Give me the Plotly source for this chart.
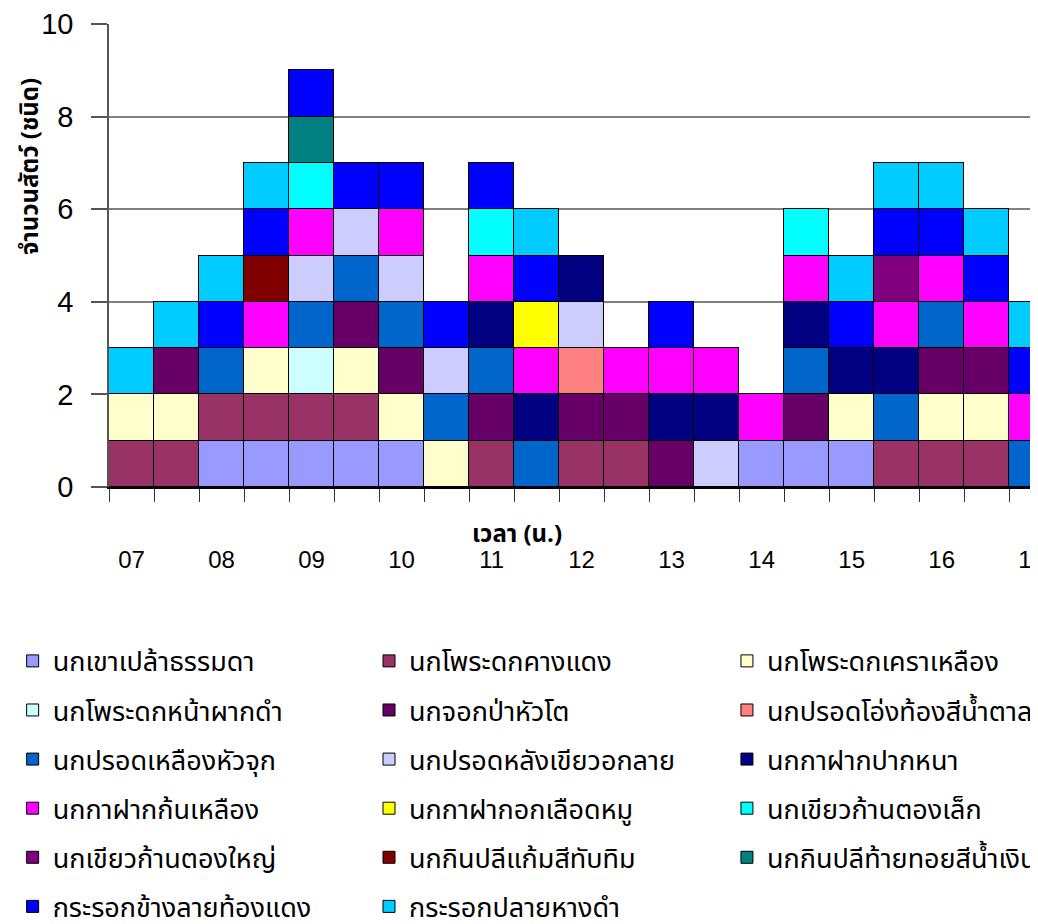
import plotly.graph_objects as go

times = ["07:00", "07:30", "08:00", "08:30", "09:00", "09:30", "10:00", "10:30", "11:00", "11:30",
         "12:00", "12:30", "13:00", "13:30", "14:00", "14:30", "15:00", "15:30", "16:00", "16:30", "17:00"]
tick_labels = ["07", "08", "09", "10", "11", "12", "13", "14", "15", "16", "17"]

species = [
    "นกเขาเปล้าธรรมดา", "นกโพระดกคางแดง", "นกโพระดกเคราเหลือง",
    "นกโพระดกหน้าผากดำ", "นกจอกป่าหัวโต", "นกปรอดโอ่งท้องสีน้ำตาล",
    "นกปรอดเหลืองหัวจุก", "นกปรอดหลังเขียวอกลาย", "นกกาฝากปากหนา",
    "นกกาฝากก้นเหลือง", "นกกาฝากอกเลือดหมู", "นกเขียวก้านตองเล็ก",
    "นกเขียวก้านตองใหญ่", "นกกินปลีแก้มสีทับทิม", "นกกินปลีท้ายทอยสีน้ำเงิน",
    "กระรอกข้างลายท้องแดง", "กระรอกปลายหางดำ",
]

colors = ["#9999FF", "#993366", "#FFFFCC", "#CCFFFF", "#660066", "#FF8080",
          "#0066CC", "#CCCCFF", "#000080", "#FF00FF", "#FFFF00", "#00FFFF",
          "#800080", "#800000", "#008080", "#0000FF", "#00CCFF"]

s01 = [0, 0, 1, 1, 1, 1, 1, 0, 0, 0, 0, 0, 0, 0, 1, 1, 1, 0, 0, 0, 0]
s02 = [1, 1, 1, 1, 1, 1, 0, 0, 1, 0, 1, 1, 0, 0, 0, 0, 0, 1, 1, 1, 0]
s03 = [1, 1, 0, 1, 0, 1, 1, 1, 0, 0, 0, 0, 0, 0, 0, 0, 1, 0, 1, 1, 0]
s04 = [0, 0, 0, 0, 1, 0, 0, 0, 0, 0, 0, 0, 0, 0, 0, 0, 0, 0, 0, 0, 0]
s05 = [0, 1, 0, 0, 0, 1, 1, 0, 1, 0, 1, 1, 1, 0, 0, 1, 0, 0, 1, 1, 0]
s06 = [0, 0, 0, 0, 0, 0, 0, 0, 0, 0, 1, 0, 0, 0, 0, 0, 0, 0, 0, 0, 0]
s07 = [0, 0, 1, 0, 1, 1, 1, 1, 1, 1, 0, 0, 0, 0, 0, 1, 0, 1, 1, 0, 1]
s08 = [0, 0, 0, 0, 1, 1, 1, 1, 0, 0, 1, 0, 0, 1, 0, 0, 0, 0, 0, 0, 0]
s09 = [0, 0, 0, 0, 0, 0, 0, 0, 1, 1, 1, 0, 1, 1, 0, 1, 1, 1, 0, 0, 0]
s10 = [0, 0, 0, 1, 1, 0, 1, 0, 1, 1, 0, 1, 1, 1, 1, 1, 0, 1, 1, 1, 1]
s11 = [0, 0, 0, 0, 0, 0, 0, 0, 0, 1, 0, 0, 0, 0, 0, 0, 0, 0, 0, 0, 0]
s12 = [0, 0, 0, 0, 1, 0, 0, 0, 1, 0, 0, 0, 0, 0, 0, 1, 0, 0, 0, 0, 0]
s13 = [0, 0, 0, 0, 0, 0, 0, 0, 0, 0, 0, 0, 0, 0, 0, 0, 0, 1, 0, 0, 0]
s14 = [0, 0, 0, 1, 0, 0, 0, 0, 0, 0, 0, 0, 0, 0, 0, 0, 0, 0, 0, 0, 0]
s15 = [0, 0, 0, 0, 1, 0, 0, 0, 0, 0, 0, 0, 0, 0, 0, 0, 0, 0, 0, 0, 0]
s16 = [0, 0, 1, 1, 1, 1, 1, 1, 1, 1, 0, 0, 1, 0, 0, 0, 1, 1, 1, 1, 1]
s17 = [1, 1, 1, 1, 0, 0, 0, 0, 0, 1, 0, 0, 0, 0, 0, 0, 1, 1, 1, 1, 1]

series = [s01, s02, s03, s04, s05, s06, s07, s08, s09, s10, s11, s12, s13, s14, s15, s16, s17]

THAI = "Noto Sans Thai, Noto Sans, Liberation Sans, sans-serif"
NUM = "Liberation Sans, Arial, sans-serif"

x_idx = list(range(len(times)))
legend_ids = ["legend", "legend2", "legend3"]

fig = go.Figure()
for i, (name, col, vals) in enumerate(zip(species, colors, series)):
    fig.add_trace(go.Bar(
        x=x_idx, y=[v if v else None for v in vals], name=name,
        marker=dict(color=col, line=dict(color="black", width=1)),
        hovertext=times,
        legend=legend_ids[i % 3], legendgroup=f"g{i}",
    ))

leg_common = dict(
    orientation="v", traceorder="grouped", xref="container", yref="container",
    xanchor="left", yanchor="top", y=0.3135,
    font=dict(family=THAI, size=27, color="black"),
    tracegroupgap=11, bgcolor="rgba(0,0,0,0)",
)
leg_x = [0.0045, 0.3505, 0.698]

fig.update_layout(
    width=1030, height=916,
    barmode="stack", bargap=0,
    plot_bgcolor="white", paper_bgcolor="white",
    margin=dict(l=101, r=0, t=16, b=437, autoexpand=False),
    showlegend=True,
    legend=dict(x=leg_x[0], **leg_common),
    legend2=dict(x=leg_x[1], **leg_common),
    legend3=dict(x=leg_x[2], **leg_common),
    xaxis=dict(
        range=[-0.5, 20.14], automargin=False,
        tickmode="array", tickvals=list(range(0, 21, 2)), ticktext=tick_labels,
        ticks="", showgrid=False, zeroline=False,
        showline=True, linecolor="black", linewidth=1.5,
        tickfont=dict(family=NUM, size=24, color="black"),
        ticklabelstandoff=50, ticklabeloverflow="allow",
        minor=dict(tick0=-0.5, dtick=1, ticks="outside", ticklen=13, tickcolor="#333", tickwidth=1),
    ),
    yaxis=dict(
        range=[0, 10], tickvals=[0, 2, 4, 6, 8, 10], automargin=False,
        showgrid=True, gridcolor="#808080", gridwidth=1.5,
        zeroline=False, showline=True, linecolor="#555", linewidth=1.5,
        ticks="outside", ticklen=16, tickcolor="#555", tickwidth=1.5,
        tickfont=dict(family=NUM, size=29, color="black"),
        ticklabelstandoff=12, ticklabeloverflow="allow",
    ),
    annotations=[
        dict(text="<b>เวลา (น.)</b>", x=0.439, y=-0.103, xref="paper", yref="paper",
             xanchor="center", yanchor="middle",
             showarrow=False, font=dict(family=THAI, size=24, color="black")),
        dict(text="<b>จำนวนสัตว์ (ชนิด)</b>", x=-0.084, y=0.693, xref="paper", yref="paper",
             xanchor="center", yanchor="middle",
             showarrow=False, textangle=-90, font=dict(family=THAI, size=24, color="black")),
    ],
)

fig.write_html("out.html")
